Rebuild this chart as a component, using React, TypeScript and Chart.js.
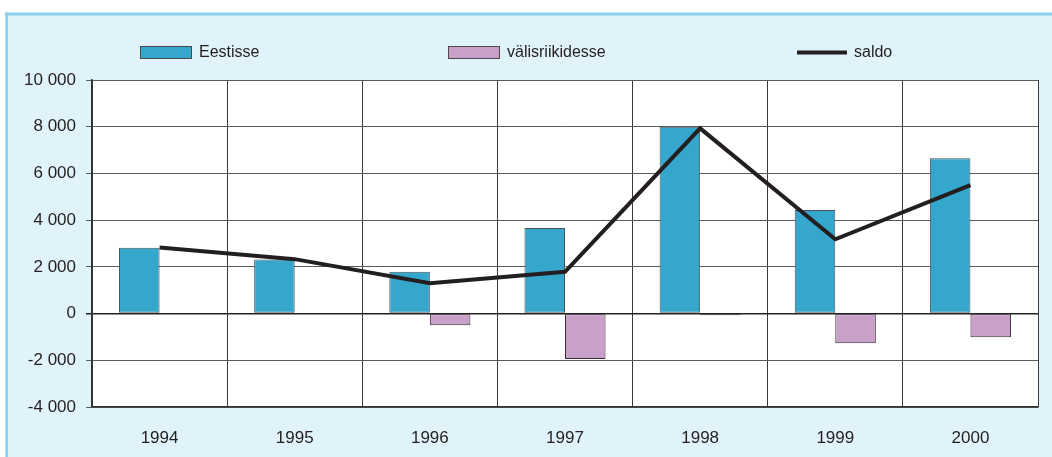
import React, { useEffect, useRef } from "react";
import { Chart, registerables } from "chart.js";

Chart.register(...registerables);

const years = ["1994", "1995", "1996", "1997", "1998", "1999", "2000"];
const eestisse = [2820, 2320, 1790, 3660, 8000, 4430, 6650];
const valisriikidesse = [0, 0, -500, -1940, -70, -1270, -1015];
const saldo = [2830, 2330, 1300, 1790, 7930, 3180, 5500];
const yTicks = [-4000, -2000, 0, 2000, 4000, 6000, 8000, 10000];

const FONT = "'Liberation Sans', Arial, sans-serif";
const TEXT = "#231f20";

function fmt(v: number): string {
  const s = Math.abs(v).toString().replace(/\B(?=(\d{3})+(?!\d))/g, " ");
  return (v < 0 ? "-" : "") + s;
}

const framePlugin = {
  id: "frame",
  beforeDraw(chart: any) {
    const { ctx, width, height, chartArea } = chart;
    ctx.save();
    ctx.fillStyle = "#ffffff";
    ctx.fillRect(0, 0, width, height);
    ctx.fillStyle = "#e0f2fa";
    ctx.fillRect(5, 13, width - 5, height - 13);
    ctx.fillStyle = "#8dd0f0";
    ctx.fillRect(5, 12.5, width - 5, 3);
    ctx.fillRect(5.5, 12.5, 2.5, height - 12.5);
    ctx.fillStyle = "#ffffff";
    ctx.fillRect(chartArea.left, chartArea.top, chartArea.right - chartArea.left, chartArea.bottom - chartArea.top);
    ctx.restore();
  },
};

const legendXs = [140, 448, 797];

const legendPlugin = {
  id: "customLegend",
  afterDraw(chart: any) {
    const { ctx } = chart;
    const y = 52.5;
    ctx.save();
    ctx.font = `16px ${FONT}`;
    ctx.textBaseline = "middle";
    ctx.fillStyle = TEXT;
    chart.data.datasets.forEach((ds: any, i: number) => {
      const x = legendXs[i];
      if (ds.type === "line") {
        ctx.fillStyle = ds.borderColor;
        ctx.fillRect(x, y - 2, 50, 4);
      } else {
        ctx.fillStyle = ds.backgroundColor;
        ctx.fillRect(x, y - 6.5, 52, 13);
        ctx.strokeStyle = "#4a4a4a";
        ctx.lineWidth = 1;
        ctx.strokeRect(x + 0.5, y - 6, 51, 12);
      }
      ctx.fillStyle = TEXT;
      ctx.fillText(ds.label, x + (ds.type === "line" ? 57 : 59), y);
    });
    ctx.restore();
  },
};

export default function App() {
  const ref = useRef<HTMLCanvasElement>(null);
  useEffect(() => {
    document.body.style.margin = "0";
    const chart = new Chart(ref.current!, {
      type: "bar",
      data: {
        labels: years,
        datasets: [
          {
            type: "bar",
            label: "Eestisse",
            data: eestisse,
            backgroundColor: "#35a7cd",
            borderColor: "#4a5258",
            borderWidth: 1,
            borderSkipped: false,
            order: 1,
          } as any,
          {
            type: "bar",
            label: "välisriikidesse",
            data: valisriikidesse,
            backgroundColor: "#c8a0c8",
            borderColor: "#3a2a3a",
            borderWidth: 1,
            borderSkipped: false,
            order: 1,
          } as any,
          {
            type: "line",
            label: "saldo",
            data: saldo,
            borderColor: "#231f20",
            borderWidth: 4,
            pointRadius: 0,
            tension: 0,
            borderJoinStyle: "miter",
            order: 0,
          } as any,
        ],
      },
      options: {
        animation: false,
        responsive: true,
        maintainAspectRatio: false,
        layout: { padding: { top: 80, right: 14, bottom: 0, left: 0 } },
        datasets: { bar: { categoryPercentage: 0.6, barPercentage: 1 } },
        plugins: { legend: { display: false }, tooltip: { enabled: false } },
        scales: {
          x: {
            grid: { color: "#3a3a3a", lineWidth: 1, drawTicks: false, offset: true },
            border: { color: "#333", width: 1.5 },
            ticks: { color: TEXT, font: { family: FONT, size: 17 }, padding: 21 },
            afterFit(scale: any) {
              scale.height = 50;
            },
          },
          y: {
            min: -4000,
            max: 10000,
            afterBuildTicks(scale: any) {
              scale.ticks = yTicks.map((v) => ({ value: v }));
            },
            grid: {
              color: (c: any) => (c.tick && c.tick.value === 0 ? "#222" : "#5a5a5a"),
              lineWidth: (c: any) => (c.tick && c.tick.value === 0 ? 1.5 : 1),
              tickLength: 6,
            },
            border: { color: "#333", width: 1.5 },
            ticks: {
              color: TEXT,
              font: { family: FONT, size: 17 },
              padding: 10,
              callback: (v: any) => fmt(Number(v)),
            },
            afterFit(scale: any) {
              scale.width = 92;
            },
          },
        },
      },
      plugins: [framePlugin, legendPlugin],
    });
    return () => chart.destroy();
  }, []);
  return (
    <div style={{ width: 1052, height: 457, position: "relative" }}>
      <canvas ref={ref} />
    </div>
  );
}
